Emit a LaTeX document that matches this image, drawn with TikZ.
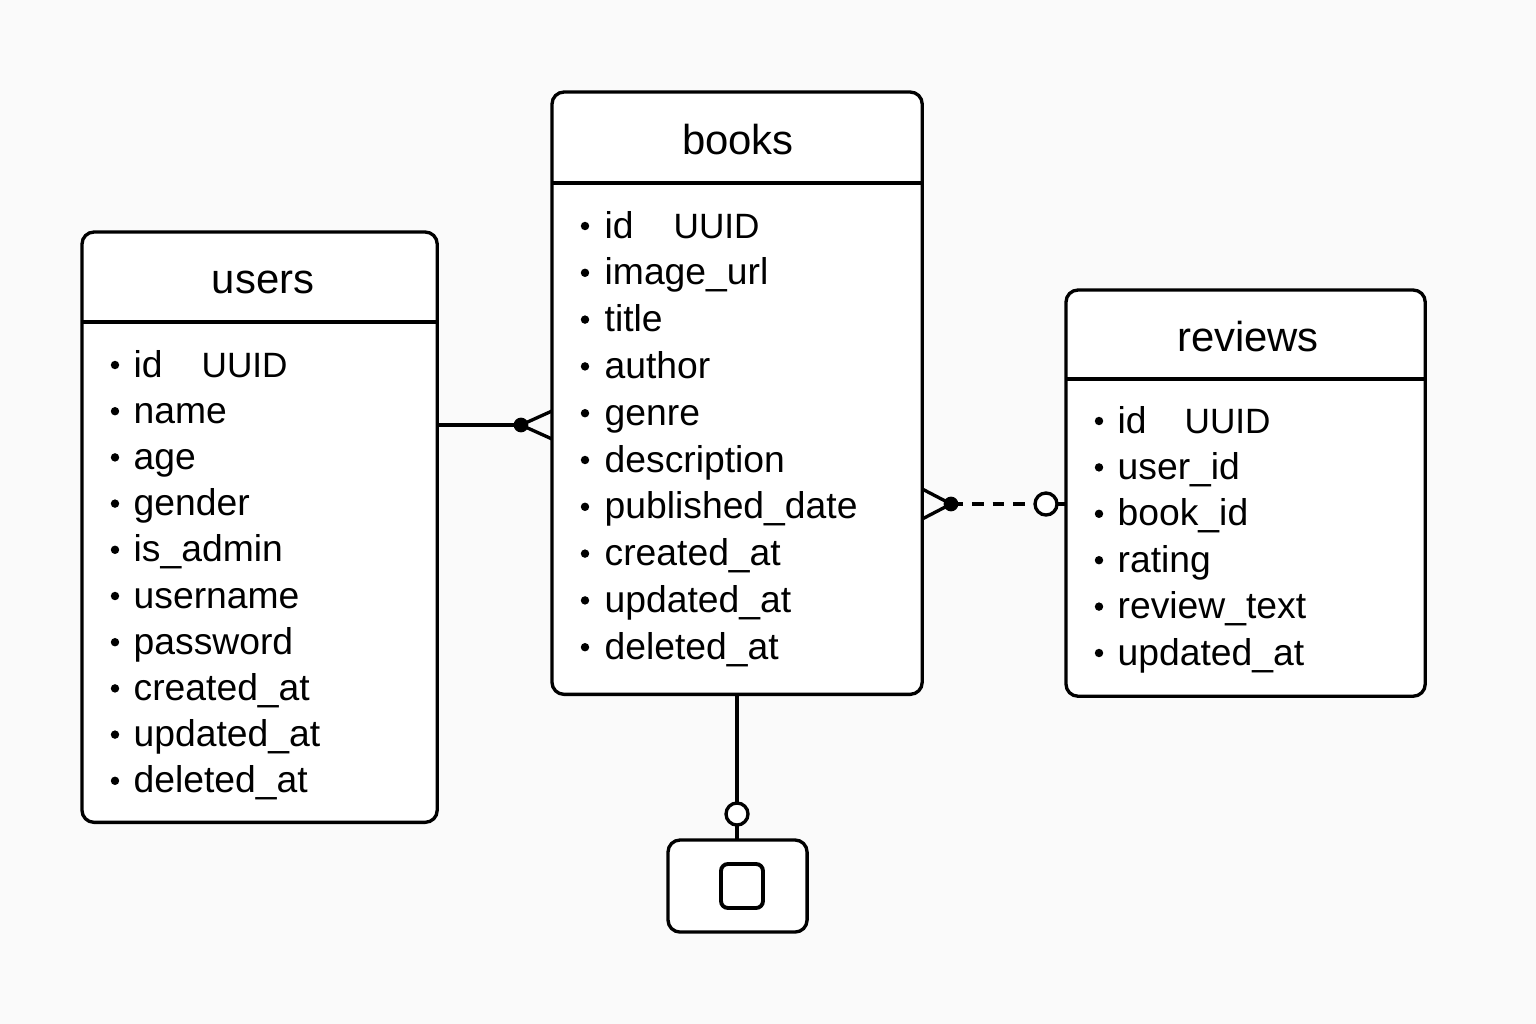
\documentclass[tikz,border=0pt]{standalone}
\usepackage{fontspec}
\setmainfont{Liberation Sans}
\usetikzlibrary{positioning}
\usetikzlibrary{calc}

\definecolor{paper}{RGB}{250,250,250}

\begin{document}
\begin{tikzpicture}[
      x = 0.01cm, y = -0.01cm,
      line width = 0.95pt,
      table/.style = {
        draw = black, fill = white,
        rounded corners = 0.12cm,
        anchor = north west,
        inner sep = 0, outer sep = 0
      },
      title/.style = {
        anchor = base, inner sep = 0,
        font = \fontsize{11.9pt}{14pt}\selectfont
      },
      field/.style = {
        anchor = base west, inner sep = 0,
        font = \fontsize{10.6pt}{12pt}\selectfont
      },
      ring/.style = {
        circle, draw = black, fill = white,
        minimum size = 0.22cm, inner sep = 0, outer sep = 0
      },
      dot/.style = { fill = black },
    ]

    % background
    \fill[paper] (0,0) rectangle (1536,1024);

    % users
    \node[table, minimum width = 3.55cm, minimum height = 5.90cm] (users) at (82,232) {};
    \node[title] (users-title) at (263,293) {users};
    \draw (users.west |- 0,322) -- (users.east |- 0,322);
    \foreach \f [count=\i from 0] in {id, name, age, gender, is\_admin, username, password, created\_at, updated\_at, deleted\_at} {
      \fill (115,{365+46.2*\i}) circle[radius = 1.2pt];
      \node[field] (users-f\i) at (132,{377+46.2*\i}) {\f};
    }
    \node[field] (users-type) at (200,377) {\fontsize{10pt}{12pt}\selectfont UUID};

    % books
    \node[table, minimum width = 3.70cm, minimum height = 6.02cm] (books) at (552,92) {};
    \node[title] (books-title) at (738,154) {books};
    \draw (books.west |- 0,183) -- (books.east |- 0,183);
    \foreach \f [count=\i from 0] in {id, image\_url, title, author, genre, description, published\_date, created\_at, updated\_at, deleted\_at} {
      \fill (585,{226+46.8*\i}) circle[radius = 1.2pt];
      \node[field] (books-f\i) at (603,{238+46.8*\i}) {\f};
    }
    \node[field] (books-type) at (672,238) {\fontsize{10pt}{12pt}\selectfont UUID};

    % reviews
    \node[table, minimum width = 3.59cm, minimum height = 4.06cm] (reviews) at (1066,290) {};
    \node[title] (reviews-title) at (1248,351) {reviews};
    \draw (reviews.west |- 0,379) -- (reviews.east |- 0,379);
    \foreach \f [count=\i from 0] in {id, user\_id, book\_id, rating, review\_text, updated\_at} {
      \fill (1099,{421+46.4*\i}) circle[radius = 1.2pt];
      \node[field] (reviews-f\i) at (1116,{433+46.4*\i}) {\f};
    }
    \node[field] (reviews-type) at (1183,433) {\fontsize{10pt}{12pt}\selectfont UUID};

    % store
    \node[table, minimum width = 1.39cm, minimum height = 0.92cm] (store) at (668,840) {};
    \node[draw = black, line width = 1.1pt, rounded corners = 0.07cm,
          minimum width = 0.42cm, minimum height = 0.44cm, inner sep = 0] (store-icon) at (742,886) {};

    % users -- books
    \coordinate (ub) at (521,425);
    \draw (users.east |- ub) -- (ub);
    \draw (books.west |- 0,411) -- (ub) -- (books.west |- 0,439);
    \fill[dot] (ub) circle[radius = 2.1pt];

    % books -- reviews
    \coordinate (br) at (951,504);
    \node[ring] (br-ring) at (1046,504) {};
    \draw (books.east |- 0,489) -- (br) -- (books.east |- 0,519);
    \draw[dash pattern = on 3.4pt off 2.5pt] (br) -- (br-ring.west);
    \draw (br-ring.east) -- (reviews.west |- br-ring);
    \fill[dot] (br) circle[radius = 2.1pt];

    % books -- store
    \node[ring] (bs-ring) at (737,814) {};
    \draw (books.south -| bs-ring) -- (bs-ring.north);
    \draw (bs-ring.south) -- (store.north -| bs-ring);
  \end{tikzpicture}
\end{document}
